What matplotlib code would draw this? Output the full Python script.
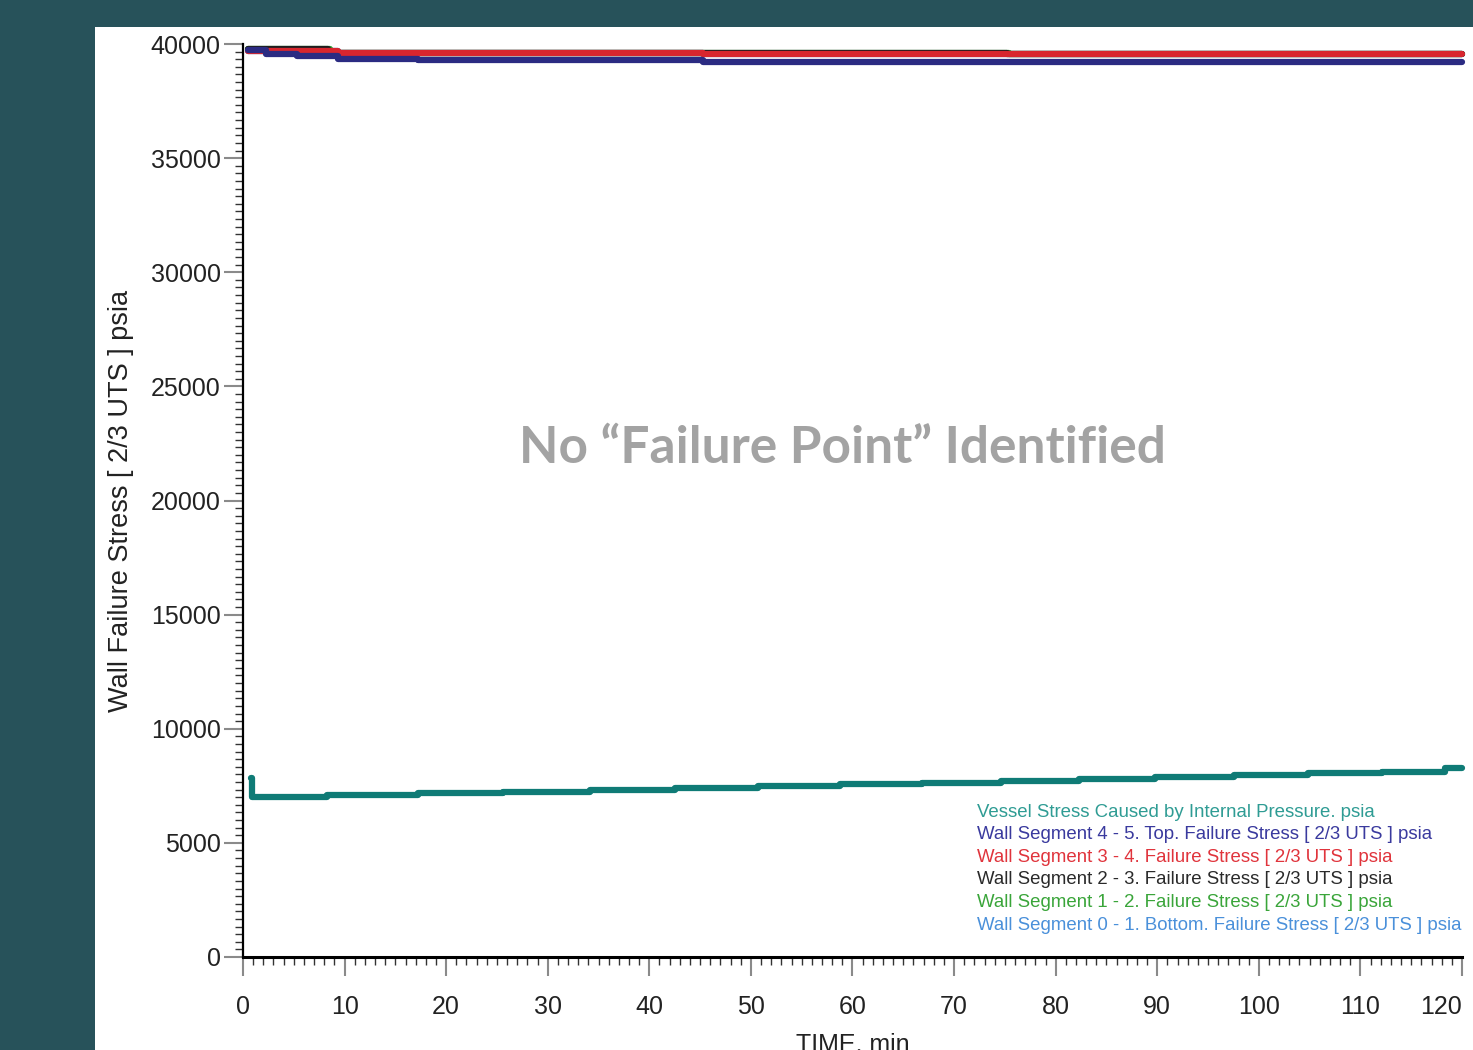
import matplotlib
matplotlib.use("Agg")
import matplotlib.pyplot as plt
from matplotlib.patches import Rectangle
from matplotlib.ticker import MultipleLocator, AutoMinorLocator

plt.rcParams['font.family'] = ['Liberation Sans', 'DejaVu Sans']

# step times (min) and stress values (psia)
vessel_t = [0.8, 0.9, 8.3, 17.2, 25.6, 34.2, 42.5, 50.7, 58.8, 66.8, 74.6,
            82.3, 89.8, 97.6, 104.8, 112.1, 118.3, 120.0]
vessel_v = [7850, 7030, 7100, 7170, 7240, 7320, 7400, 7480, 7560, 7640, 7720,
            7800, 7880, 7960, 8040, 8120, 8290, 8290]

seg45_t = [0.5, 2.3, 5.3, 9.4, 17.2, 45.3, 118.5, 120.0]
seg45_v = [39720, 39575, 39460, 39360, 39290, 39215, 39190, 39190]

seg34_t = [0.5, 9.4, 45.3, 120.0]
seg34_v = [39680, 39610, 39550, 39550]

seg23_t = [0.5, 8.4, 45.3, 75.2, 120.0]
seg23_v = [39760, 39600, 39590, 39550, 39550]

seg12_t = [0.5, 8.6, 45.3, 75.4, 120.0]
seg12_v = [39760, 39600, 39600, 39550, 39550]

seg01_t = [0.5, 9.4, 45.3, 120.0]
seg01_v = [39680, 39610, 39550, 39550]

labels = [
    "Vessel Stress Caused by Internal Pressure. psia",
    "Wall Segment 4 - 5. Top. Failure Stress [ 2/3 UTS ] psia",
    "Wall Segment 3 - 4. Failure Stress [ 2/3 UTS ] psia",
    "Wall Segment 2 - 3. Failure Stress [ 2/3 UTS ] psia",
    "Wall Segment 1 - 2. Failure Stress [ 2/3 UTS ] psia",
    "Wall Segment 0 - 1. Bottom. Failure Stress [ 2/3 UTS ] psia",
]
line_colors = ['#0f7b76', '#2b2b82', '#d8262e', '#1e1e1e', '#2f9e35', '#4a8fd8']
text_colors = ['#2f9c94', '#3a3a9e', '#e0343c', '#2a2a2a', '#3aa53a', '#4a90da']

fig = plt.figure(figsize=(14.73, 10.5), dpi=100)
fig.patch.set_facecolor('#27525a')
# white panel behind the plot
panel = Rectangle((95 / 1473, 0), 1 - 95 / 1473, 1023 / 1050,
                  transform=fig.transFigure, facecolor='white',
                  edgecolor='none', zorder=-5)
fig.add_artist(panel)

ax = fig.add_axes([243 / 1473, 93 / 1050, 1219 / 1473, 913 / 1050])
ax.set_facecolor('none')

series = [(vessel_t, vessel_v), (seg45_t, seg45_v), (seg34_t, seg34_v),
          (seg23_t, seg23_v), (seg12_t, seg12_v), (seg01_t, seg01_v)]
zorders = [6, 5, 4, 3, 2, 1]
handles = []
for (t, v), c, z, lab in zip(series, line_colors, zorders, labels):
    h, = ax.plot(t, v, drawstyle='steps-post', color=c, lw=4.5, zorder=z,
                 solid_capstyle='round', clip_on=False, label=lab)
    handles.append(h)

ax.set_xlim(0, 120)
ax.set_ylim(0, 40000)

for s in ['top', 'right']:
    ax.spines[s].set_visible(False)
ax.spines['left'].set_linewidth(1.6)
ax.spines['bottom'].set_linewidth(2.2)

ax.xaxis.set_major_locator(MultipleLocator(10))
ax.xaxis.set_minor_locator(MultipleLocator(1))
ax.yaxis.set_major_locator(MultipleLocator(5000))
ax.yaxis.set_minor_locator(AutoMinorLocator(15))

ax.tick_params(which='major', length=14, width=1.5, color='#8a8a8a',
               labelsize=18, labelcolor='#222222')
ax.tick_params(which='minor', length=6, width=1.0, color='#333333')
ax.tick_params(axis='x', which='major', pad=13)
ax.tick_params(axis='y', which='major', pad=2)

# keep the "120" label inside the panel
fig.canvas.draw()
for tick in ax.xaxis.get_major_ticks():
    if tick.label1.get_text() == '120':
        tick.label1.set_horizontalalignment('right')

ax.set_ylabel("Wall Failure Stress [ 2/3 UTS ] psia", fontsize=19.5, color='#222222')
ax.yaxis.set_label_coords(-0.0895, 0.5)
ax.set_xlabel("TIME, min", fontsize=18, color='#222222')
ax.xaxis.set_label_coords(0.5, -0.083)

ax.text(0.4914, 0.5575, "No \u201cFailure Point\u201d Identified",
        transform=ax.transAxes, ha='center', va='center', fontsize=37,
        fontweight='bold', color='#a3a3a3', family=['Lato', 'DejaVu Sans'])

leg = ax.legend(handles=handles, loc='upper left', bbox_to_anchor=(0.602, 0.168),
                frameon=False, handlelength=0, handletextpad=0, borderpad=0,
                borderaxespad=0, labelspacing=0.3,
                prop={'family': ['Liberation Sans'], 'size': 13.4})
for txt, c in zip(leg.get_texts(), text_colors):
    txt.set_color(c)
for h in leg.legend_handles:
    h.set_visible(False)

fig.savefig("out.png", dpi=100, facecolor=fig.get_facecolor())
